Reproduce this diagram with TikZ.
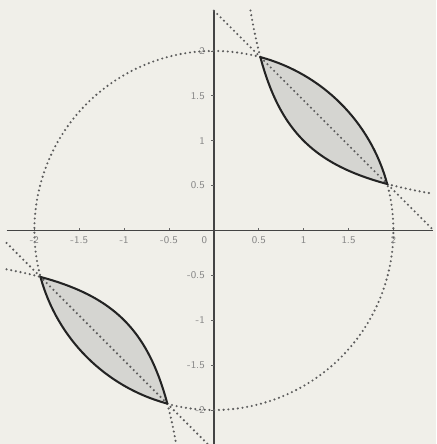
\documentclass[tikz,border=0pt]{standalone}
\usepackage{tikz}
\definecolor{paper}{RGB}{240,239,233}
\definecolor{lensgray}{RGB}{213,213,209}
\definecolor{ink}{RGB}{35,35,35}
\definecolor{dotgray}{RGB}{92,92,92}
\definecolor{labgray}{RGB}{135,135,135}

\begin{document}
\begin{tikzpicture}[x=2cm,y=2cm,line join=round,
 ax/.style={draw=ink!85,line width=0.9pt},
 bd/.style={draw=ink,line width=1.3pt},
 dotln/.style={draw=dotgray,line width=1.5pt,line cap=round,dash pattern=on 0pt off 3pt},
 tk/.style={draw=ink!70,line width=0.6pt},
 xl/.style={text=labgray,font=\sffamily\fontsize{6.5}{7}\selectfont,inner sep=0.5pt,anchor=north},
 yl/.style={text=labgray,font=\sffamily\fontsize{6.5}{7}\selectfont,inner sep=0.5pt,anchor=east}]
\fill[paper] (-2.383,-2.379) rectangle (2.477,2.568);
\useasboundingbox (-2.383,-2.379) rectangle (2.477,2.568);
\clip (-2.383,-2.379) rectangle (2.477,2.568);
\coordinate (p1) at (75:2);
\coordinate (p2) at (15:2);
\coordinate (p3) at (195:2);
\coordinate (p4) at (255:2);
\coordinate (ct) at (0,2.449);
\coordinate (cr) at (2.449,0);
\coordinate (cl) at (-2.31,-0.139);
\coordinate (cb) at (0,-2.449);
\fill[lensgray] plot[domain=0.5176:1.9319,samples=60] (\x,{1/\x}) arc[start angle=15,end angle=75,radius=2] -- cycle;
\fill[lensgray] plot[domain=-1.9319:-0.5176,samples=60] (\x,{1/\x}) arc[start angle=255,end angle=195,radius=2] -- cycle;
\draw[ax] (-2.31,0) -- (2.44,0);
\draw[ax] (0,-2.45) -- (0,2.46);
\foreach \v in {-2,-1.5,-1,-0.5,0.5,1,1.5,2} {
  \draw[tk] (\v,0) -- (\v,0.03);
  \draw[tk] (0,\v) -- (-0.03,\v);
}
\draw[dotln] (p1) arc[start angle=75,end angle=195,radius=2];
\draw[dotln] (p4) arc[start angle=255,end angle=375,radius=2];
\draw[dotln] plot[domain=0.408:0.5176,samples=8] (\x,{1/\x});
\draw[dotln] plot[domain=1.9319:2.44,samples=12] (\x,{1/\x});
\draw[dotln] plot[domain=-2.31:-1.9319,samples=12] (\x,{1/\x});
\draw[dotln] plot[domain=-0.5176:-0.408,samples=8] (\x,{1/\x});
\draw[dotln] (ct) -- (cr);
\draw[dotln] (cl) -- (cb);
\draw[bd] plot[domain=0.5176:1.9319,samples=60] (\x,{1/\x}) arc[start angle=15,end angle=75,radius=2] -- cycle;
\draw[bd] plot[domain=-1.9319:-0.5176,samples=60] (\x,{1/\x}) arc[start angle=255,end angle=195,radius=2] -- cycle;
\node[xl] (xa) at (-2,-0.05) {-2};
\node[xl] (xb) at (-1.5,-0.05) {-1.5};
\node[xl] (xc) at (-1,-0.05) {-1};
\node[xl] (xd) at (-0.5,-0.05) {-0.5};
\node[xl] (xo) at (-0.105,-0.05) {0};
\node[xl] (xe) at (0.5,-0.05) {0.5};
\node[xl] (xf) at (1,-0.05) {1};
\node[xl] (xg) at (1.5,-0.05) {1.5};
\node[xl] (xh) at (2,-0.05) {2};
\node[yl] (ya) at (-0.09,2) {2};
\node[yl] (yb) at (-0.09,1.5) {1.5};
\node[yl] (yc) at (-0.09,1) {1};
\node[yl] (yd) at (-0.09,0.5) {0.5};
\node[yl] (ye) at (-0.09,-0.5) {-0.5};
\node[yl] (yf) at (-0.09,-1) {-1};
\node[yl] (yg) at (-0.09,-1.5) {-1.5};
\node[yl] (yh) at (-0.09,-2) {-2};
\end{tikzpicture}
\end{document}
